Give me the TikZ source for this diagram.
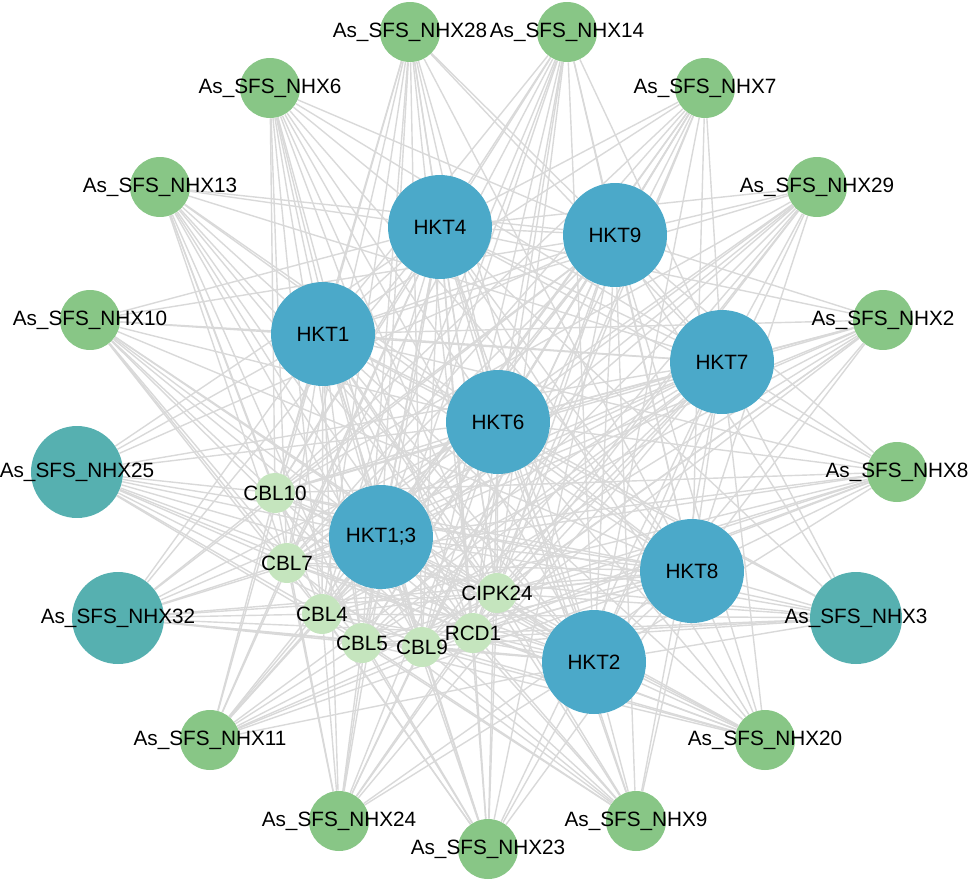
\documentclass[tikz,border=0pt]{standalone}
\usepackage{fontspec}
\setmainfont{Liberation Sans}
\usetikzlibrary{backgrounds}
\definecolor{netEdge}{HTML}{D9D9D9}
\definecolor{nhxGreen}{HTML}{88C686}
\definecolor{nhxTeal}{HTML}{56B0B0}
\definecolor{hktBlue}{HTML}{4BA9C9}
\definecolor{cblMint}{HTML}{C5E5BE}
\tikzset{
  netlabel/.style={inner sep=0pt,font=\fontsize{11.8}{12}\selectfont},
  nhxnode/.style={circle,fill=nhxGreen,inner sep=0pt,minimum size=1.2cm,
    label={[netlabel]center:#1}},
  nhxhub/.style={circle,fill=nhxTeal,inner sep=0pt,minimum size=1.84cm,
    label={[netlabel]center:#1}},
  hktnode/.style={circle,fill=hktBlue,inner sep=0pt,minimum size=2.08cm,
    label={[netlabel]center:#1}},
  cblnode/.style={circle,fill=cblMint,inner sep=0pt,minimum size=0.8cm,
    label={[netlabel]center:#1}},
  netedge/.style={draw=netEdge,line width=0.8pt}
}
\begin{document}
\begin{tikzpicture}[x=0.02cm,y=-0.02cm]
  \useasboundingbox (0,0) rectangle (969,882);
  % outer ring
  \node[nhxnode={As\_SFS\_NHX28}] (n28) at (410,32) {};
  \node[nhxnode={As\_SFS\_NHX14}] (n14) at (567,32) {};
  \node[nhxnode={As\_SFS\_NHX6}] (n6) at (270,88) {};
  \node[nhxnode={As\_SFS\_NHX7}] (n7) at (705,88) {};
  \node[nhxnode={As\_SFS\_NHX13}] (n13) at (160,187) {};
  \node[nhxnode={As\_SFS\_NHX29}] (n29) at (817,187) {};
  \node[nhxnode={As\_SFS\_NHX10}] (n10) at (90,320) {};
  \node[nhxnode={As\_SFS\_NHX2}] (n2) at (883,320) {};
  \node[nhxhub={As\_SFS\_NHX25}] (n25) at (77,472) {};
  \node[nhxnode={As\_SFS\_NHX8}] (n8) at (897,472) {};
  \node[nhxhub={As\_SFS\_NHX32}] (n32) at (118,618) {};
  \node[nhxhub={As\_SFS\_NHX3}] (n3) at (856,618) {};
  \node[nhxnode={As\_SFS\_NHX11}] (n11) at (210,740) {};
  \node[nhxnode={As\_SFS\_NHX20}] (n20) at (765,740) {};
  \node[nhxnode={As\_SFS\_NHX24}] (n24) at (339,821) {};
  \node[nhxnode={As\_SFS\_NHX9}] (n9) at (636,821) {};
  \node[nhxnode={As\_SFS\_NHX23}] (n23) at (488,849) {};
  % HKT hubs
  \node[hktnode=HKT4] (hkt4) at (440,227) {};
  \node[hktnode=HKT9] (hkt9) at (615,235) {};
  \node[hktnode=HKT1] (hkt1) at (323,334) {};
  \node[hktnode=HKT7] (hkt7) at (722,362) {};
  \node[hktnode=HKT6] (hkt6) at (498,422) {};
  \node[hktnode={HKT1;3}] (hkt13) at (381,537) {};
  \node[hktnode=HKT8] (hkt8) at (692,571) {};
  \node[hktnode=HKT2] (hkt2) at (594,662) {};
  % CBL / CIPK
  \node[cblnode=CBL10] (cbl10) at (275,493) {};
  \node[cblnode=CBL7] (cbl7) at (287,563) {};
  \node[cblnode=CBL4] (cbl4) at (322,614) {};
  \node[cblnode=CBL5] (cbl5) at (362,643) {};
  \node[cblnode=CBL9] (cbl9) at (422,647) {};
  \node[cblnode=RCD1] (rcd1) at (473,633) {};
  \node[cblnode=CIPK24] (cipk24) at (497,593) {};
  \begin{pgfonlayer}{background}
    \foreach \s in {n28,n14,n6,n7,n13,n29,n10,n2,n25,n8,n32,n3,n11,n20,n24,n9,n23}
      \foreach \t in {hkt4,hkt9,hkt1,hkt7,hkt6,hkt13,hkt8,hkt2,cbl10,cbl7,cbl4,cbl5,cbl9,rcd1,cipk24}
        \draw[netedge] (\s) -- (\t);
    \foreach \s in {hkt4,hkt9,hkt1,hkt7,hkt6,hkt13,hkt8,hkt2}
      \foreach \t in {cbl10,cbl7,cbl4,cbl5,cbl9,rcd1,cipk24}
        \draw[netedge] (\s) -- (\t);
    \foreach \s/\t in {hkt4/hkt9,hkt4/hkt1,hkt4/hkt7,hkt4/hkt6,hkt4/hkt13,hkt4/hkt8,hkt4/hkt2,
                       hkt9/hkt1,hkt9/hkt7,hkt9/hkt6,hkt9/hkt13,hkt9/hkt8,hkt9/hkt2,
                       hkt1/hkt7,hkt1/hkt6,hkt1/hkt13,hkt1/hkt8,hkt1/hkt2,
                       hkt7/hkt6,hkt7/hkt13,hkt7/hkt8,hkt7/hkt2,
                       hkt6/hkt13,hkt6/hkt8,hkt6/hkt2,hkt13/hkt8,hkt13/hkt2,hkt8/hkt2}
      \draw[netedge] (\s) -- (\t);
  \end{pgfonlayer}
\end{tikzpicture}
\end{document}
